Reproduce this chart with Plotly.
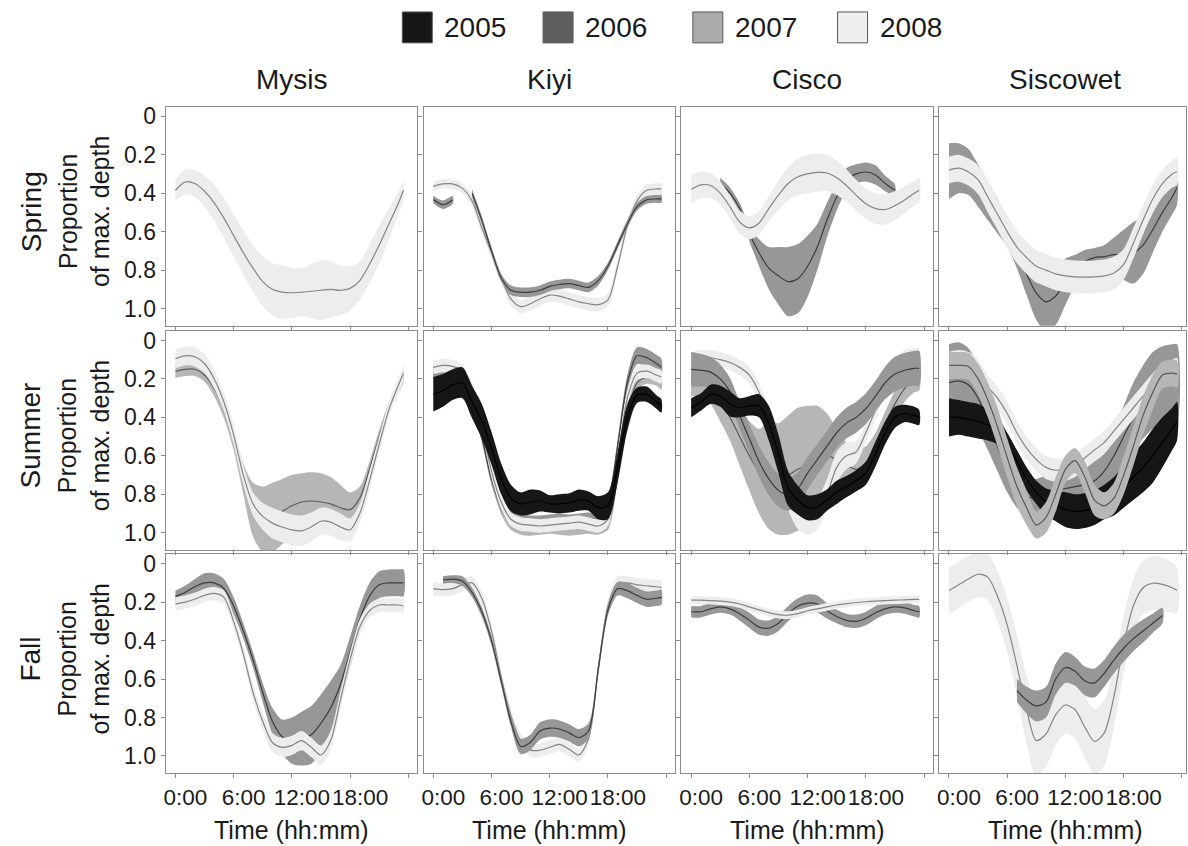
import plotly.graph_objects as go

# ---------------- data ----------------
HOURS = list(range(24)) + [23.5]
YEARS = ["2005", "2006", "2007", "2008"]
SPECIES = ["Mysis", "Kiyi", "Cisco", "Siscowet"]
SEASONS = ["Spring", "Summer", "Fall"]
Y_TICKS = [0, 0.2, 0.4, 0.6, 0.8, 1.0]
Y_TICK_LABELS = ["0", "0.2", "0.4", "0.6", "0.8", "1.0"]
X_TICKS = [0, 6, 12, 18, 24]
X_TICK_LABELS = ["0:00", "6:00", "12:00", "18:00", ""]
N = None

# ---- Spring ----
SPRING_MYSIS_2008_MID = [0.385, 0.342, 0.35, 0.39, 0.45, 0.53, 0.62, 0.71, 0.79, 0.86, 0.90, 0.915, 0.918, 0.915, 0.91, 0.905, 0.90, 0.905, 0.895, 0.855, 0.77, 0.67, 0.56, 0.45, 0.385]
SPRING_MYSIS_2008_CI = [0.055, 0.065, 0.07, 0.08, 0.095, 0.105, 0.11, 0.115, 0.12, 0.13, 0.135, 0.14, 0.13, 0.125, 0.14, 0.155, 0.145, 0.13, 0.115, 0.10, 0.10, 0.10, 0.08, 0.06, 0.045]

SPRING_KIYI_2006_MID = [0.433, 0.46, 0.435, N, 0.40, 0.54, 0.70, 0.84, 0.905, 0.915, 0.915, 0.905, 0.885, 0.875, 0.87, 0.88, 0.89, 0.855, 0.78, 0.67, 0.56, 0.47, 0.435, 0.43, 0.43]
SPRING_KIYI_2006_CI = [0.02, 0.022, 0.02, N, 0.02, 0.02, 0.02, 0.02, 0.025, 0.025, 0.025, 0.025, 0.025, 0.025, 0.025, 0.025, 0.025, 0.025, 0.02, 0.02, 0.02, 0.02, 0.02, 0.02, 0.02]
SPRING_KIYI_2008_MID = [0.365, 0.352, 0.352, 0.375, 0.44, 0.58, 0.71, 0.84, 0.95, 0.99, 0.975, 0.95, 0.93, 0.935, 0.95, 0.965, 0.975, 0.98, 0.955, 0.78, 0.57, 0.44, 0.385, 0.378, 0.378]
SPRING_KIYI_2008_CI = [0.025, 0.025, 0.025, 0.025, 0.03, 0.03, 0.03, 0.03, 0.035, 0.035, 0.035, 0.035, 0.035, 0.035, 0.035, 0.035, 0.035, 0.035, 0.035, 0.03, 0.03, 0.03, 0.03, 0.03, 0.03]

SPRING_CISCO_2006_MID = [N, N, N, 0.35, 0.40, 0.48, 0.61, 0.71, 0.79, 0.83, 0.86, 0.845, 0.78, 0.68, 0.54, 0.42, 0.33, 0.30, 0.29, 0.305, 0.35, 0.385, N, N, N]
SPRING_CISCO_2006_CI = [N, N, N, 0.03, 0.03, 0.03, 0.04, 0.07, 0.11, 0.15, 0.18, 0.18, 0.16, 0.12, 0.09, 0.07, 0.06, 0.05, 0.05, 0.05, 0.04, 0.03, N, N, N]
SPRING_CISCO_2008_MID = [0.38, 0.357, 0.36, 0.40, 0.47, 0.55, 0.58, 0.555, 0.48, 0.41, 0.35, 0.315, 0.30, 0.292, 0.295, 0.32, 0.36, 0.41, 0.455, 0.48, 0.485, 0.465, 0.435, 0.40, 0.385]
SPRING_CISCO_2008_CI = [0.075, 0.07, 0.065, 0.06, 0.06, 0.06, 0.06, 0.06, 0.065, 0.075, 0.085, 0.095, 0.10, 0.10, 0.095, 0.09, 0.085, 0.08, 0.08, 0.08, 0.08, 0.075, 0.07, 0.065, 0.065]

SPRING_SISCOWET_2006_MID = [0.285, 0.27, 0.29, 0.36, 0.44, 0.52, 0.60, 0.70, 0.82, 0.92, 0.965, 0.935, 0.86, 0.80, 0.755, 0.735, 0.73, 0.72, 0.72, 0.71, 0.67, 0.59, 0.50, 0.42, 0.37]
SPRING_SISCOWET_2006_CI = [0.145, 0.13, 0.12, 0.11, 0.10, 0.09, 0.08, 0.09, 0.11, 0.14, 0.155, 0.15, 0.12, 0.08, 0.06, 0.05, 0.06, 0.09, 0.13, 0.16, 0.15, 0.12, 0.10, 0.09, 0.09]
SPRING_SISCOWET_2008_MID = [0.28, 0.27, 0.29, 0.33, 0.42, 0.51, 0.60, 0.68, 0.735, 0.78, 0.80, 0.82, 0.83, 0.835, 0.837, 0.835, 0.83, 0.815, 0.77, 0.66, 0.54, 0.43, 0.35, 0.30, 0.287]
SPRING_SISCOWET_2008_CI = [0.07, 0.07, 0.07, 0.075, 0.08, 0.08, 0.085, 0.085, 0.085, 0.085, 0.085, 0.085, 0.085, 0.085, 0.085, 0.085, 0.085, 0.085, 0.08, 0.08, 0.075, 0.075, 0.07, 0.07, 0.07]

# ---- Summer ----
SUMMER_MYSIS_2007_MID = [0.16, 0.15, 0.15, 0.18, 0.25, 0.36, 0.52, 0.72, 0.88, 0.93, 0.92, 0.89, 0.86, 0.84, 0.835, 0.84, 0.85, 0.87, 0.88, 0.82, 0.67, 0.50, 0.35, 0.24, 0.19]
SUMMER_MYSIS_2007_CI = [0.035, 0.035, 0.035, 0.035, 0.04, 0.045, 0.05, 0.08, 0.14, 0.17, 0.18, 0.17, 0.16, 0.15, 0.15, 0.15, 0.14, 0.12, 0.09, 0.06, 0.04, 0.035, 0.03, 0.03, 0.03]
SUMMER_MYSIS_2008_MID = [0.095, 0.08, 0.085, 0.12, 0.20, 0.32, 0.49, 0.70, 0.85, 0.915, 0.95, 0.97, 0.985, 0.99, 0.97, 0.94, 0.945, 0.97, 0.985, 0.90, 0.73, 0.54, 0.36, 0.23, 0.17]
SUMMER_MYSIS_2008_CI = [0.05, 0.05, 0.05, 0.05, 0.05, 0.05, 0.05, 0.05, 0.06, 0.07, 0.08, 0.08, 0.08, 0.08, 0.075, 0.07, 0.07, 0.07, 0.06, 0.05, 0.05, 0.04, 0.04, 0.04, 0.04]

SUMMER_KIYI_2005_MID = [0.28, 0.26, 0.23, 0.22, 0.32, 0.42, 0.56, 0.72, 0.82, 0.85, 0.84, 0.835, 0.85, 0.85, 0.845, 0.83, 0.835, 0.87, 0.86, 0.66, 0.40, 0.285, 0.28, 0.32, 0.34]
SUMMER_KIYI_2005_CI = [0.09, 0.085, 0.08, 0.08, 0.085, 0.09, 0.085, 0.08, 0.07, 0.06, 0.065, 0.055, 0.045, 0.05, 0.05, 0.055, 0.05, 0.06, 0.07, 0.08, 0.07, 0.04, 0.04, 0.035, 0.035]
SUMMER_KIYI_2006_MID = [0.17, 0.16, 0.16, 0.20, 0.31, 0.50, 0.72, 0.86, 0.92, 0.935, 0.94, 0.94, 0.935, 0.93, 0.935, 0.93, 0.925, 0.93, 0.85, 0.55, 0.22, 0.08, 0.09, 0.12, 0.14]
SUMMER_KIYI_2006_CI = [0.03, 0.03, 0.03, 0.03, 0.03, 0.03, 0.03, 0.03, 0.03, 0.03, 0.03, 0.03, 0.03, 0.03, 0.03, 0.03, 0.03, 0.03, 0.03, 0.035, 0.04, 0.045, 0.045, 0.045, 0.045]
SUMMER_KIYI_2007_MID = [0.16, 0.15, 0.15, 0.18, 0.28, 0.47, 0.70, 0.87, 0.95, 0.975, 0.98, 0.975, 0.97, 0.975, 0.98, 0.975, 0.97, 0.975, 0.95, 0.70, 0.38, 0.22, 0.19, 0.20, 0.22]
SUMMER_KIYI_2007_CI = [0.035] * 25
SUMMER_KIYI_2008_MID = [0.14, 0.13, 0.135, 0.16, 0.25, 0.44, 0.68, 0.84, 0.93, 0.955, 0.96, 0.965, 0.96, 0.955, 0.95, 0.945, 0.955, 0.965, 0.93, 0.62, 0.30, 0.17, 0.16, 0.18, 0.19]
SUMMER_KIYI_2008_CI = [0.035] * 25

SUMMER_CISCO_2005_MID = [0.35, 0.32, 0.28, 0.29, 0.33, 0.35, 0.34, 0.34, 0.43, 0.59, 0.77, 0.83, 0.87, 0.865, 0.83, 0.79, 0.76, 0.73, 0.69, 0.59, 0.48, 0.40, 0.38, 0.39, 0.40]
SUMMER_CISCO_2005_CI = [0.05, 0.045, 0.05, 0.055, 0.065, 0.05, 0.05, 0.06, 0.09, 0.10, 0.09, 0.075, 0.065, 0.065, 0.055, 0.06, 0.055, 0.055, 0.06, 0.065, 0.06, 0.055, 0.045, 0.045, 0.04]
SUMMER_CISCO_2006_MID = [0.15, 0.155, 0.165, 0.20, 0.265, 0.39, 0.51, 0.63, 0.72, 0.78, 0.80, 0.77, 0.69, 0.62, 0.55, 0.48, 0.43, 0.40, 0.355, 0.29, 0.22, 0.175, 0.155, 0.145, 0.145]
SUMMER_CISCO_2006_CI = [0.09, 0.085, 0.08, 0.075, 0.07, 0.07, 0.075, 0.08, 0.085, 0.085, 0.085, 0.085, 0.085, 0.08, 0.08, 0.08, 0.08, 0.08, 0.08, 0.08, 0.085, 0.09, 0.09, 0.09, 0.09]
SUMMER_CISCO_2007_MID = [0.22, 0.22, 0.25, 0.32, 0.40, 0.50, 0.60, 0.68, 0.70, 0.72, 0.70, 0.67, 0.65, 0.62, 0.60, 0.62, 0.65, 0.67, 0.64, 0.56, 0.44, 0.33, 0.25, 0.20, 0.19]
SUMMER_CISCO_2007_CI = [0.07, 0.07, 0.08, 0.10, 0.12, 0.15, 0.18, 0.22, 0.28, 0.29, 0.31, 0.32, 0.31, 0.28, 0.22, 0.16, 0.12, 0.10, 0.09, 0.08, 0.07, 0.07, 0.07, 0.07, 0.07]
SUMMER_CISCO_2008_MID = [0.10, 0.09, 0.09, 0.10, 0.115, 0.14, 0.18, 0.27, 0.42, 0.62, 0.80, 0.90, 0.93, 0.90, 0.80, 0.66, 0.60, 0.58, 0.48, 0.36, 0.24, 0.14, 0.09, 0.08, 0.08]
SUMMER_CISCO_2008_CI = [0.04, 0.04, 0.04, 0.04, 0.04, 0.04, 0.045, 0.05, 0.06, 0.07, 0.08, 0.08, 0.08, 0.08, 0.08, 0.08, 0.07, 0.06, 0.05, 0.05, 0.04, 0.04, 0.04, 0.04, 0.04]

SUMMER_SISCOWET_2005_MID = [0.40, 0.40, 0.41, 0.42, 0.44, 0.47, 0.54, 0.63, 0.72, 0.79, 0.84, 0.86, 0.88, 0.89, 0.885, 0.87, 0.84, 0.81, 0.76, 0.71, 0.66, 0.60, 0.53, 0.46, 0.42]
SUMMER_SISCOWET_2005_CI = [0.10, 0.09, 0.09, 0.09, 0.08, 0.07, 0.06, 0.06, 0.06, 0.06, 0.07, 0.08, 0.09, 0.09, 0.09, 0.09, 0.09, 0.10, 0.11, 0.12, 0.13, 0.14, 0.13, 0.11, 0.10]
SUMMER_SISCOWET_2006_MID = [0.22, 0.21, 0.23, 0.30, 0.42, 0.55, 0.67, 0.76, 0.81, 0.82, 0.80, 0.78, 0.77, 0.76, 0.75, 0.73, 0.68, 0.60, 0.50, 0.40, 0.32, 0.26, 0.23, 0.22, 0.22]
SUMMER_SISCOWET_2006_CI = [0.20, 0.20, 0.19, 0.17, 0.15, 0.13, 0.12, 0.11, 0.10, 0.10, 0.10, 0.10, 0.10, 0.10, 0.10, 0.11, 0.12, 0.14, 0.16, 0.18, 0.19, 0.20, 0.20, 0.20, 0.20]
SUMMER_SISCOWET_2007_MID = [0.13, 0.13, 0.135, 0.20, 0.31, 0.45, 0.61, 0.76, 0.87, 0.96, 0.92, 0.80, 0.67, 0.625, 0.71, 0.83, 0.86, 0.82, 0.70, 0.55, 0.39, 0.27, 0.18, 0.17, 0.175]
SUMMER_SISCOWET_2007_CI = [0.07, 0.07, 0.07, 0.08, 0.09, 0.10, 0.10, 0.10, 0.09, 0.07, 0.08, 0.09, 0.07, 0.065, 0.08, 0.08, 0.07, 0.08, 0.10, 0.10, 0.10, 0.09, 0.07, 0.07, 0.07]
SUMMER_SISCOWET_2008_MID = [0.12, 0.11, 0.12, 0.16, 0.24, 0.30, 0.38, 0.48, 0.56, 0.62, 0.66, 0.675, 0.67, 0.65, 0.61, 0.57, 0.53, 0.47, 0.41, 0.35, 0.29, 0.23, 0.18, 0.16, 0.15]
SUMMER_SISCOWET_2008_CI = [0.06] * 25

# ---- Fall ----
FALL_MYSIS_2006_MID = [0.17, 0.15, 0.12, 0.10, 0.10, 0.13, 0.22, 0.35, 0.50, 0.67, 0.82, 0.90, 0.92, 0.91, 0.89, 0.83, 0.75, 0.63, 0.46, 0.29, 0.17, 0.11, 0.10, 0.10, 0.10]
FALL_MYSIS_2006_CI = [0.03, 0.035, 0.04, 0.05, 0.05, 0.05, 0.045, 0.04, 0.04, 0.05, 0.07, 0.09, 0.12, 0.14, 0.15, 0.15, 0.14, 0.10, 0.08, 0.07, 0.07, 0.07, 0.07, 0.07, 0.07]
FALL_MYSIS_2008_MID = [0.21, 0.20, 0.185, 0.165, 0.155, 0.175, 0.30, 0.47, 0.67, 0.82, 0.93, 0.955, 0.945, 0.92, 0.955, 0.995, 0.92, 0.71, 0.50, 0.33, 0.245, 0.215, 0.215, 0.215, 0.22]
FALL_MYSIS_2008_CI = [0.035, 0.035, 0.035, 0.035, 0.035, 0.035, 0.035, 0.035, 0.04, 0.045, 0.05, 0.05, 0.05, 0.05, 0.05, 0.05, 0.05, 0.045, 0.04, 0.04, 0.035, 0.035, 0.035, 0.035, 0.035]

FALL_KIYI_2006_MID = [N, 0.085, 0.08, 0.09, 0.15, 0.25, 0.40, 0.61, 0.82, 0.95, 0.93, 0.87, 0.855, 0.86, 0.88, 0.905, 0.87, 0.55, 0.24, 0.13, 0.14, 0.165, 0.185, 0.18, 0.175]
FALL_KIYI_2006_CI = [N, 0.02, 0.02, 0.025, 0.025, 0.025, 0.025, 0.025, 0.03, 0.04, 0.04, 0.045, 0.045, 0.045, 0.045, 0.045, 0.04, 0.03, 0.03, 0.035, 0.04, 0.04, 0.04, 0.04, 0.04]
FALL_KIYI_2008_MID = [0.13, 0.135, 0.13, 0.11, 0.10, 0.18, 0.35, 0.59, 0.79, 0.92, 0.97, 0.97, 0.955, 0.94, 0.965, 0.995, 0.91, 0.55, 0.22, 0.10, 0.10, 0.11, 0.115, 0.12, 0.125]
FALL_KIYI_2008_CI = [0.035] * 25

FALL_CISCO_2006_MID = [0.25, 0.25, 0.235, 0.225, 0.235, 0.26, 0.295, 0.33, 0.335, 0.31, 0.26, 0.22, 0.205, 0.21, 0.245, 0.275, 0.295, 0.30, 0.285, 0.255, 0.235, 0.225, 0.23, 0.245, 0.25]
FALL_CISCO_2006_CI = [0.03, 0.03, 0.03, 0.03, 0.03, 0.035, 0.04, 0.04, 0.04, 0.04, 0.04, 0.04, 0.045, 0.045, 0.04, 0.035, 0.035, 0.035, 0.035, 0.035, 0.03, 0.03, 0.03, 0.03, 0.03]
FALL_CISCO_2008_MID = [0.19, 0.19, 0.192, 0.195, 0.20, 0.21, 0.225, 0.24, 0.255, 0.265, 0.268, 0.26, 0.245, 0.235, 0.225, 0.215, 0.208, 0.202, 0.198, 0.195, 0.192, 0.19, 0.188, 0.186, 0.186]
FALL_CISCO_2008_CI = [0.02] * 25

FALL_SISCOWET_2006_MID = [N, N, N, N, N, N, N, 0.66, 0.71, 0.74, 0.72, 0.60, 0.54, 0.56, 0.61, 0.62, 0.57, 0.50, 0.44, 0.39, 0.35, 0.31, 0.27, N, N]
FALL_SISCOWET_2006_CI = [N, N, N, N, N, N, N, 0.06, 0.07, 0.08, 0.08, 0.08, 0.08, 0.075, 0.075, 0.075, 0.07, 0.07, 0.07, 0.065, 0.06, 0.05, 0.04, N, N]
FALL_SISCOWET_2008_MID = [0.14, 0.11, 0.08, 0.055, 0.07, 0.17, 0.32, 0.53, 0.76, 0.92, 0.885, 0.785, 0.735, 0.76, 0.85, 0.925, 0.88, 0.69, 0.42, 0.22, 0.125, 0.102, 0.108, 0.125, 0.14]
FALL_SISCOWET_2008_CI = [0.12, 0.12, 0.12, 0.12, 0.12, 0.13, 0.14, 0.16, 0.18, 0.19, 0.17, 0.16, 0.15, 0.15, 0.16, 0.17, 0.17, 0.16, 0.15, 0.14, 0.14, 0.14, 0.14, 0.13, 0.12]

# panel contents, in drawing order (first = bottom)
PANELS = {
    ("Spring", "Mysis"): [("2008", SPRING_MYSIS_2008_MID, SPRING_MYSIS_2008_CI)],
    ("Spring", "Kiyi"): [("2008", SPRING_KIYI_2008_MID, SPRING_KIYI_2008_CI),
                         ("2006", SPRING_KIYI_2006_MID, SPRING_KIYI_2006_CI)],
    ("Spring", "Cisco"): [("2006", SPRING_CISCO_2006_MID, SPRING_CISCO_2006_CI),
                          ("2008", SPRING_CISCO_2008_MID, SPRING_CISCO_2008_CI)],
    ("Spring", "Siscowet"): [("2006", SPRING_SISCOWET_2006_MID, SPRING_SISCOWET_2006_CI),
                             ("2008", SPRING_SISCOWET_2008_MID, SPRING_SISCOWET_2008_CI)],
    ("Summer", "Mysis"): [("2007", SUMMER_MYSIS_2007_MID, SUMMER_MYSIS_2007_CI),
                          ("2008", SUMMER_MYSIS_2008_MID, SUMMER_MYSIS_2008_CI)],
    ("Summer", "Kiyi"): [("2007", SUMMER_KIYI_2007_MID, SUMMER_KIYI_2007_CI),
                         ("2006", SUMMER_KIYI_2006_MID, SUMMER_KIYI_2006_CI),
                         ("2008", SUMMER_KIYI_2008_MID, SUMMER_KIYI_2008_CI),
                         ("2005", SUMMER_KIYI_2005_MID, SUMMER_KIYI_2005_CI)],
    ("Summer", "Cisco"): [("2007", SUMMER_CISCO_2007_MID, SUMMER_CISCO_2007_CI),
                          ("2008", SUMMER_CISCO_2008_MID, SUMMER_CISCO_2008_CI),
                          ("2006", SUMMER_CISCO_2006_MID, SUMMER_CISCO_2006_CI),
                          ("2005", SUMMER_CISCO_2005_MID, SUMMER_CISCO_2005_CI)],
    ("Summer", "Siscowet"): [("2006", SUMMER_SISCOWET_2006_MID, SUMMER_SISCOWET_2006_CI),
                             ("2005", SUMMER_SISCOWET_2005_MID, SUMMER_SISCOWET_2005_CI),
                             ("2008", SUMMER_SISCOWET_2008_MID, SUMMER_SISCOWET_2008_CI),
                             ("2007", SUMMER_SISCOWET_2007_MID, SUMMER_SISCOWET_2007_CI)],
    ("Fall", "Mysis"): [("2006", FALL_MYSIS_2006_MID, FALL_MYSIS_2006_CI),
                        ("2008", FALL_MYSIS_2008_MID, FALL_MYSIS_2008_CI)],
    ("Fall", "Kiyi"): [("2008", FALL_KIYI_2008_MID, FALL_KIYI_2008_CI),
                       ("2006", FALL_KIYI_2006_MID, FALL_KIYI_2006_CI)],
    ("Fall", "Cisco"): [("2006", FALL_CISCO_2006_MID, FALL_CISCO_2006_CI),
                        ("2008", FALL_CISCO_2008_MID, FALL_CISCO_2008_CI)],
    ("Fall", "Siscowet"): [("2008", FALL_SISCOWET_2008_MID, FALL_SISCOWET_2008_CI),
                           ("2006", FALL_SISCOWET_2006_MID, FALL_SISCOWET_2006_CI)],
}

# ---------------- style ----------------
W, H = 1188, 846
FONT = "Liberation Sans, Arial, sans-serif"
TXT = "#1a1a1a"
BAND_COLOR = {"2005": "#161616", "2006": "#979797", "2007": "#b6b6b6", "2008": "#ededed"}
LINE_COLOR = {"2005": "#000000", "2006": "#3c3c3c", "2007": "#5a5a5a", "2008": "#858585"}
LEGEND_COLOR = {"2005": "#161616", "2006": "#5e5e5e", "2007": "#ababab", "2008": "#efefef"}
AXIS_COLOR = "#8c8c8c"

ROW_TOP = [104, 329, 553]
PANEL_H = 220
COL_LEFT = [164, 422.3, 680.6, 938.9]
PANEL_W = [252, 252, 252, 247]
PX_PER_H = 9.72
ZERO_OFF = 9.7
Y_RANGE = [1.09, -0.05]


def segments(mid):
    segs, cur = [], []
    for i, v in enumerate(mid):
        if v is None:
            if cur:
                segs.append(cur)
                cur = []
        else:
            cur.append(i)
    if cur:
        segs.append(cur)
    return segs


def band_xy(mid, ci):
    xs, ys = [], []
    for seg in segments(mid):
        hx = [HOURS[i] for i in seg]
        lo = [mid[i] - ci[i] for i in seg]
        hi = [mid[i] + ci[i] for i in seg]
        xs += hx + hx[::-1] + [None]
        ys += lo + hi[::-1] + [None]
    return xs, ys


fig = go.Figure()
layout_axes = {}

for r, season in enumerate(SEASONS):
    for c, sp in enumerate(SPECIES):
        k = r * 4 + c + 1
        xa = "x" if k == 1 else f"x{k}"
        ya = "y" if k == 1 else f"y{k}"
        for year, mid, ci in PANELS[(season, sp)]:
            bx, by = band_xy(mid, ci)
            fig.add_trace(go.Scatter(
                x=bx, y=by, xaxis=xa, yaxis=ya, mode="lines", fill="toself",
                fillcolor=BAND_COLOR[year], line=dict(width=0, shape="spline", smoothing=0.8),
                hoverinfo="skip", showlegend=False))
            fig.add_trace(go.Scatter(
                x=HOURS, y=mid, xaxis=xa, yaxis=ya, mode="lines",
                line=dict(color=LINE_COLOR[year], width=1.2, shape="spline", smoothing=0.8),
                connectgaps=False, showlegend=False, name=f"{sp} {season} {year}"))

        x0 = COL_LEFT[c] / W
        x1 = (COL_LEFT[c] + PANEL_W[c]) / W
        y1 = 1 - ROW_TOP[r] / H
        y0 = 1 - (ROW_TOP[r] + PANEL_H) / H
        xr = [-ZERO_OFF / PX_PER_H, (PANEL_W[c] - ZERO_OFF) / PX_PER_H]
        xkey = "xaxis" if k == 1 else f"xaxis{k}"
        ykey = "yaxis" if k == 1 else f"yaxis{k}"
        layout_axes[xkey] = dict(
            domain=[x0, x1], range=xr, anchor=ya, showgrid=False, zeroline=False,
            showline=True, mirror=True, linecolor=AXIS_COLOR, linewidth=1.2,
            ticks="outside", ticklen=4, tickcolor=AXIS_COLOR, tickwidth=1,
            tickvals=X_TICKS, ticktext=X_TICK_LABELS, showticklabels=(r == 2),
            tickangle=0, tickfont=dict(family=FONT, size=22.5, color=TXT), ticklabelshift=10)
        layout_axes[ykey] = dict(
            domain=[y0, y1], range=Y_RANGE, anchor=xa, showgrid=False, zeroline=False,
            showline=True, mirror=True, linecolor=AXIS_COLOR, linewidth=1.2,
            ticks="outside", ticklen=4, tickcolor=AXIS_COLOR, tickwidth=1,
            tickvals=Y_TICKS, ticktext=Y_TICK_LABELS, showticklabels=(c == 0),
            tickfont=dict(family=FONT, size=23, color=TXT))

annotations = []
shapes = []
# column titles and x titles
for c, sp in enumerate(SPECIES):
    cx = (COL_LEFT[c] + 252 / 2) / W
    annotations.append(dict(x=cx, y=1 - 77 / H, xref="paper", yref="paper", text=sp,
                            showarrow=False, font=dict(family=FONT, size=28, color=TXT),
                            xanchor="center", yanchor="middle"))
    annotations.append(dict(x=cx, y=1 - 830 / H, xref="paper", yref="paper", text="Time (hh:mm)",
                            showarrow=False, font=dict(family=FONT, size=25, color=TXT),
                            xanchor="center", yanchor="middle"))
# row titles
for r, season in enumerate(SEASONS):
    cy = 1 - (ROW_TOP[r] + PANEL_H / 2 - 5) / H
    annotations.append(dict(x=29 / W, y=cy, xref="paper", yref="paper", text=season,
                            showarrow=False, textangle=-90,
                            font=dict(family=FONT, size=28, color=TXT),
                            xanchor="center", yanchor="middle"))
    annotations.append(dict(x=82 / W, y=cy, xref="paper", yref="paper",
                            text="Proportion<br>of max. depth", showarrow=False, textangle=-90,
                            font=dict(family=FONT, size=25, color=TXT),
                            xanchor="center", yanchor="middle"))
# legend
LEG_BOX_X = [401, 542, 692, 837]
for i, year in enumerate(YEARS):
    bx = LEG_BOX_X[i]
    shapes.append(dict(type="rect", xref="paper", yref="paper",
                       x0=bx / W, x1=(bx + 30) / W, y0=1 - 40 / H, y1=1 - 9 / H,
                       fillcolor=LEGEND_COLOR[year], line=dict(color="#555555", width=1)))
    annotations.append(dict(x=(bx + 40) / W, y=1 - 25 / H, xref="paper", yref="paper", text=year,
                            showarrow=False, font=dict(family=FONT, size=28, color=TXT),
                            xanchor="left", yanchor="middle"))

fig.update_layout(
    width=W, height=H, margin=dict(l=0, r=0, t=0, b=0),
    paper_bgcolor="white", plot_bgcolor="white",
    annotations=annotations, shapes=shapes, showlegend=False,
    **layout_axes)

fig.write_html("out.html", config={"displayModeBar": False},
               post_script="document.body.style.margin='0';document.body.style.overflow='hidden';")
